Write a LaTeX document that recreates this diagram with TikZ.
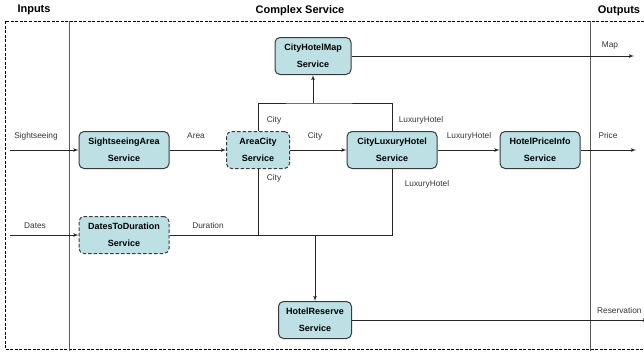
\documentclass[tikz,border=0pt]{standalone}
\usepackage{fontspec}
\setmainfont{Liberation Sans}
\usetikzlibrary{arrows, positioning}

\definecolor{svcfill}{HTML}{BCE0E4}
\definecolor{svcline}{HTML}{3A3A3A}
\definecolor{divline}{HTML}{5A5A5A}

\begin{document}
\begin{tikzpicture}[x=1pt, y=-1pt]
	\tikzset{>=latex', svc/.style={draw=svcline, fill=svcfill, line width=1pt, rounded corners=5pt, minimum height=37pt, inner sep=0pt, align=center, font=\fontsize{9}{17}\selectfont\bfseries},
		opt/.style={svc, dash pattern=on 3.5pt off 2pt},
		lbl/.style={font=\fontsize{8.3}{9}\selectfont, text=black!80, inner sep=0pt},
		head/.style={font=\fontsize{11}{13}\selectfont\bfseries, inner sep=0pt},
		flow/.style={line width=0.8pt, draw=black!85}}

	\useasboundingbox (0,0) rectangle (644,351);

	% frame and the three columns
	\draw[dash pattern=on 3pt off 1.5pt, line width=0.6pt] (644,21) -- (5,21) -- (5,349) -- (644,349);
	\draw[divline, line width=0.8pt] (69,21) -- (69,351) (590,21) -- (590,351);
	\node[head] (hIn) at (34,10) {Inputs};
	\node[head] (hSvc) at (300,11) {Complex Service};
	\node[head] (hOut) at (619,11) {Outputs};

	% services
	\node[svc, minimum width=76pt] (map) at (313,56) {CityHotelMap\\Service};
	\node[svc, minimum width=90pt] (sight) at (124,150) {SightseeingArea\\Service};
	\node[opt, minimum width=63pt] (area) at (258,150) {AreaCity\\Service};
	\node[svc, minimum width=90pt] (lux) at (392,150) {CityLuxuryHotel\\Service};
	\node[svc, minimum width=80pt] (price) at (540,150) {HotelPriceInfo\\Service};
	\node[opt, minimum width=90pt] (dur) at (124,235) {DatesToDuration\\Service};
	\node[svc, minimum width=73pt] (reserve) at (315,320) {HotelReserve\\Service};

	% ends and joints
	\coordinate (inSight) at (10,150);
	\coordinate (inDates) at (10,235);
	\coordinate (jtop) at (313,103);
	\coordinate (jbot) at (315,235);
	\coordinate (outMap) at (634,56);
	\coordinate (outPrice) at (636,150);
	\coordinate (outRes) at (648,320);

	\draw[flow, ->] (inSight) -- (sight);
	\draw[flow, ->] (inDates) -- (dur);
	\draw[flow, ->] (sight) -- (area);
	\draw[flow, ->] (area) -- (lux);
	\draw[flow, ->] (lux) -- (price);
	\draw[flow, ->] (price) -- (outPrice);
	\draw[flow, ->] (map) -- (outMap);
	\draw[flow, ->] (reserve) -- (outRes);
	\draw[flow] (area.north) |- (jtop) -| (lux.north);
	\draw[flow, ->] (jtop) -- (map.south);
	\draw[flow] (area.south) |- (jbot);
	\draw[flow] (lux.south) |- (jbot);
	\draw[flow] (dur.east) -- (jbot);
	\draw[flow, ->] (jbot) -- (reserve.north);

	% data labels
	\node[lbl] (lSight) at (36,136) {Sightseeing};
	\node[lbl] (lDates) at (35,226) {Dates};
	\node[lbl] (lArea) at (196,136) {Area};
	\node[lbl] (lCity) at (315,136) {City};
	\node[lbl] (lCityUp) at (274,120) {City};
	\node[lbl] (lCityDn) at (274,178) {City};
	\node[lbl] (lDur) at (208,226) {Duration};
	\node[lbl] (lLuxUp) at (421,120) {LuxuryHotel};
	\node[lbl] (lLux) at (469,136) {LuxuryHotel};
	\node[lbl] (lLuxDn) at (427,184) {LuxuryHotel};
	\node[lbl] (lMap) at (610,46) {Map};
	\node[lbl] (lPrice) at (608,136) {Price};
	\node[lbl, anchor=west] (lRes) at (597,311) {Reservation};
\end{tikzpicture}
\end{document}
